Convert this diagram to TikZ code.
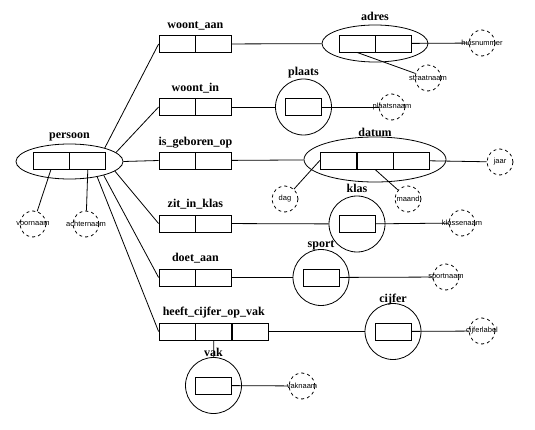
\documentclass[tikz,border=0pt]{standalone}
\usepackage{fontspec}
\usetikzlibrary{positioning,shapes.geometric}

\newfontfamily\lblfont{Liberation Serif}
\newfontfamily\attfont{Liberation Sans}
\newcommand{\attnaam}[1]{\makebox[0pt]{#1}}

\begin{document}
\begin{tikzpicture}[x=1pt, y=-1pt, line width=0.8pt,
      cel/.style={draw, minimum width=36pt, minimum height=17pt, inner sep=0pt},
      lbl/.style={font=\lblfont\fontsize{12}{14}\selectfont\bfseries, inner sep=0pt, anchor=base},
      ent/.style={draw, circle, minimum size=56pt, inner sep=0pt},
      attr/.style={draw, dashed, circle, minimum size=26pt, inner sep=0pt,
                   font=\attfont\fontsize{7.5}{8}\selectfont}]
   \useasboundingbox (0,0) rectangle (535,430);

   % persoon
   \node[draw, ellipse, minimum width=107pt, minimum height=35pt] (pers) at (69.5,161.5) {};
   \node[cel]                      (pers1) at (51,160.5) {};
   \node[cel, right=0pt of pers1]  (pers2) {};
   \node[above=5pt of pers.north, lbl] {persoon};

   % relaties
   \node[cel]                   (wa1) at (177,44) {};
   \node[cel, right=0pt of wa1] (wa2) {};
   \node[above=7pt of wa1.north east, lbl] {woont\_aan};

   \node[cel]                   (wi1) at (177,107) {};
   \node[cel, right=0pt of wi1] (wi2) {};
   \node[above=7pt of wi1.north east, lbl] {woont\_in};

   \node[cel]                   (ig1) at (177,160.5) {};
   \node[cel, right=0pt of ig1] (ig2) {};
   \node[above=6pt of ig1.north east, lbl] {is\_geboren\_op};

   \node[cel]                   (zk1) at (177,223.5) {};
   \node[cel, right=0pt of zk1] (zk2) {};
   \node[above=7pt of zk1.north east, lbl] {zit\_in\_klas};

   \node[cel]                   (da1) at (177,277.5) {};
   \node[cel, right=0pt of da1] (da2) {};
   \node[above=7pt of da1.north east, lbl] {doet\_aan};

   \node[cel]                   (hc1) at (177,331.5) {};
   \node[cel, right=0pt of hc1] (hc2) {};
   \node[cel, right=0pt of hc2] (hc3) {};
   \node[above=7pt of hc2.north, lbl] {heeft\_cijfer\_op\_vak};

   % entiteiten
   \node[draw, ellipse, minimum width=106pt, minimum height=37pt] (adr) at (375,43.5) {};
   \node[cel]                    (adr1) at (357,43.5) {};
   \node[cel, right=0pt of adr1] (adr2) {};
   \node[above=4pt of adr.north, lbl] {adres};

   \node[ent] (plts) at (303.5,107) {};
   \node[cel] (plts1) at (plts) {};
   \node[above=3pt of plts.north, lbl] {plaats};

   \node[draw, ellipse, minimum width=142pt, minimum height=45pt] (dtm) at (375,159.5) {};
   \node[cel]                    (dtm2) at (375,160.5) {};
   \node[cel, left=0pt of dtm2]  (dtm1) {};
   \node[cel, right=0pt of dtm2] (dtm3) {};
   \node[above=0pt of dtm.north, lbl] {datum};

   \node[ent] (kls) at (357,224) {};
   \node[cel] (kls1) at (kls) {};
   \node[above=3pt of kls.north, lbl] {klas};

   \node[ent] (sprt) at (321,277.5) {};
   \node[cel] (sprt1) at (sprt) {};
   \node[above=2pt of sprt.north, lbl] {sport};

   \node[ent] (cfr) at (393,331.5) {};
   \node[cel] (cfr1) at (cfr) {};
   \node[above=1pt of cfr.north, lbl] {cijfer};

   \node[ent] (vak) at (213.5,385.5) {};
   \node[cel] (vak1) at (vak) {};
   \node[above=1pt of vak.north, lbl] {vak};

   % attributen
   \node[attr] (vnm)  at (33,224)  {\attnaam{voornaam}};
   \node[attr] (anm)  at (86,224)  {\attnaam{achternaam}};
   \node[attr] (hnr)  at (482,43)  {\attnaam{huisnummer}};
   \node[attr] (snm)  at (428,78)  {\attnaam{straatnaam}};
   \node[attr] (pnm)  at (392,107) {\attnaam{plaatsnaam}};
   \node[attr] (jaar) at (500,162) {\attnaam{jaar}};
   \node[attr] (dag)  at (285,199) {\attnaam{dag}};
   \node[attr] (mnd)  at (408,199) {\attnaam{maand}};
   \node[attr] (knm)  at (462,223) {\attnaam{klassenaam}};
   \node[attr] (spnm) at (446,277) {\attnaam{sportnaam}};
   \node[attr] (cfl)  at (482,331) {\attnaam{cijferlabel}};
   \node[attr] (vknm) at (302,386) {\attnaam{vaknaam}};

   % persoon naar relaties
   \draw (pers.21)    -- (wa1.west);
   \draw (pers.11)    -- (wi1.west);
   \draw (pers.east)  -- (ig1.west);
   \draw (pers.-12.5) -- (zk1.west);
   \draw (pers.-22)   -- (da1.west);
   \draw (pers.-29)   -- (hc1.west);
   \draw (pers1.south) -- (vnm);
   \draw (pers2.south) -- (anm);

   % relaties naar entiteiten
   \draw (wa2) -- (adr);
   \draw (wi2) -- (plts);
   \draw (ig2) -- (dtm);
   \draw (zk2) -- (kls);
   \draw (da2) -- (sprt);
   \draw (hc3) -- (cfr);
   \draw (hc2) -- (vak);

   % entiteiten naar attributen
   \draw (adr2) -- (hnr);
   \draw (adr1.south) -- (snm);
   \draw (plts1) -- (pnm);
   \draw (dtm1.west) -- (dag);
   \draw (dtm2.south) -- (mnd);
   \draw (dtm3) -- (jaar);
   \draw (kls1) -- (knm);
   \draw (sprt1) -- (spnm);
   \draw (cfr1) -- (cfl);
   \draw (vak1) -- (vknm);
\end{tikzpicture}
\end{document}
